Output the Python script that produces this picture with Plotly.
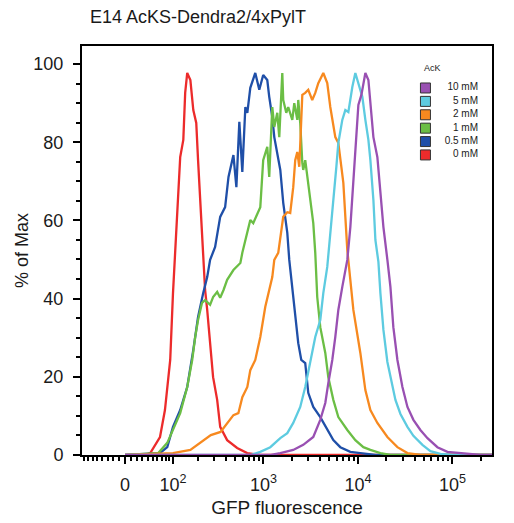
import numpy as np
import plotly.graph_objects as go

# ---- data: GFP fluorescence (a.u.) vs % of max ----
red_x = [0, 35, 45, 66, 78, 92, 100, 113, 123, 134, 141, 149, 162, 175, 189, 198, 219, 237, 250, 269,
         290, 321, 346, 411, 526, 673, 925, 262144]
red_y = [0, 0, 0.5, 4.6, 11.5, 24.3, 41.4, 62.7, 76.2, 80.6, 92.6, 97.7, 95.9, 88.2, 84.9, 75.4, 58.3,
         42.2, 37.1, 28.6, 19.9, 14.1, 7.2, 3.8, 1.8, 0.5, 0, 0]

blue_x = [0, 66, 84, 100, 123, 149, 175, 198, 226, 250, 269, 305, 346, 391, 425, 480, 516, 555, 597, 643,
          675, 726, 820, 904, 995, 1099, 1153, 1242, 1304, 1403, 1510, 1622, 1791, 1879, 2023, 2173, 2339,
          2518, 2773, 2985, 3373, 4000, 4742, 5495, 6516, 8318, 10617, 15311, 262144]
blue_y = [0, 0.5, 2.0, 7.2, 11.5, 17.4, 26.9, 35.3, 41.4, 45.5, 49.9, 53.2, 60.9, 63.4, 71.1, 76.7, 68.5,
          85.2, 72.4, 89.0, 87.5, 93.9, 97.7, 93.4, 97.2, 95.9, 91.6, 86.4, 81.3, 77.2, 72.9, 64.5, 56.8,
          49.9, 43.0, 36.3, 28.6, 24.3, 23.5, 15.9, 12.3, 9.7, 6.4, 3.8, 2.0, 0.8, 0.5, 0, 0]

green_x = [0, 62, 84, 100, 123, 149, 170, 184, 198, 219, 237, 269, 290, 321, 346, 376, 411, 480, 569, 597,
           675, 726, 780, 861, 927, 995, 1099, 1153, 1242, 1304, 1403, 1472, 1585, 1622, 1746, 1832, 2023,
           2123, 2286, 2339, 2455, 2582, 2642, 2773, 2911, 3133, 3373, 3540, 3715, 4000, 4519, 4864, 5495,
           6209, 7727, 9397, 11429, 13552, 17298, 22080, 262144]
green_y = [0, 0.5, 3.1, 6.4, 10.7, 17.4, 24.3, 30.2, 34.5, 38.9, 39.6, 38.4, 40.4, 41.7, 40.2, 42.2, 44.8,
           47.3, 49.1, 51.7, 56.8, 60.1, 59.3, 61.9, 63.4, 75.4, 78.8, 71.1, 89.0, 83.9, 87.5, 81.3, 97.7,
           90.8, 87.5, 89.0, 85.7, 90.0, 85.7, 90.8, 84.9, 74.7, 72.9, 75.4, 71.1, 64.5, 59.3, 51.7, 40.4,
           32.7, 26.1, 19.9, 14.1, 9.7, 6.4, 3.8, 2.0, 1.3, 0.5, 0, 0]

orange_x = [0, 100, 162, 209, 274, 349, 414, 480, 542, 597, 675, 726, 820, 927, 1047, 1125, 1242, 1304,
            1436, 1622, 1791, 1923, 2070, 2173, 2286, 2399, 2582, 2773, 2985, 3289, 3540, 3811, 4305, 4742,
            5105, 5768, 6209, 6683, 7015, 7727, 8954, 10617, 11995, 13552, 16069, 20512, 26182, 33420,
            45810, 262144]
orange_y = [0, 0.5, 1.3, 3.1, 5.1, 5.9, 8.2, 10.2, 10.7, 14.8, 17.4, 21.7, 24.3, 30.2, 37.9, 41.4, 45.5,
            49.9, 51.7, 60.9, 62.1, 61.9, 68.5, 75.4, 77.5, 73.7, 92.1, 92.6, 93.4, 90.8, 92.6, 95.1, 97.7,
            95.1, 89.0, 81.3, 79.8, 73.7, 69.6, 52.4, 37.1, 26.1, 16.6, 11.5, 8.2, 4.6, 2.0, 0.5, 0, 0]

cyan_x = [0, 726, 927, 1183, 1510, 1791, 2070, 2455, 2773, 3133, 3540, 4000, 4305, 4742, 5105, 5495, 5916,
          6209, 6839, 7362, 7925, 8730, 9397, 10115, 11143, 11995, 12912, 13552, 14588, 15311, 16482,
          17298, 18621, 20512, 23174, 24946, 28184, 33420, 38650, 48150, 58480, 74650, 100000, 262144]
cyan_y = [0, 0, 0.8, 2.0, 4.3, 5.6, 8.2, 12.3, 17.4, 24.3, 30.2, 34.5, 41.4, 48.1, 55.8, 65.2, 73.7, 79.8,
          85.7, 88.2, 87.7, 94.1, 97.7, 95.1, 91.6, 85.7, 80.6, 75.4, 65.2, 55.0, 49.4, 41.4, 32.0, 23.8,
          17.4, 14.1, 10.5, 7.2, 4.9, 2.6, 1.0, 0.3, 0, 0]

purple_x = [0, 1200, 1510, 2070, 2642, 3373, 4000, 4519, 4864, 5358, 5768, 6209, 6839, 7362, 7727, 8318,
            8954, 9638, 10115, 10889, 11995, 12912, 14223, 14588, 16069, 17298, 18621, 20512, 22080, 23714,
            26182, 29580, 33420, 38650, 45810, 54450, 69340, 88510, 112980, 144200, 198000, 262144]
purple_y = [0, 0, 0.5, 1.3, 2.6, 4.6, 9.0, 13.3, 18.4, 24.3, 30.2, 37.1, 43.0, 47.3, 49.9, 58.3, 69.6,
            83.1, 89.5, 92.1, 97.7, 95.9, 85.7, 81.3, 76.2, 67.0, 58.3, 49.9, 43.0, 32.7, 24.3, 17.4, 12.3,
            9.0, 6.4, 4.3, 2.0, 0.8, 0.5, 0.3, 0, 0]

labels = ["0 mM", "0.5 mM", "1 mM", "2 mM", "5 mM", "10 mM"]
colors = ["#EC2B2B", "#1F4FA8", "#6BBE45", "#F7891F", "#5DCBE0", "#9950B2"]
xs = [red_x, blue_x, green_x, orange_x, cyan_x, purple_x]
ys = [red_y, blue_y, green_y, orange_y, cyan_y, purple_y]

major_vals = [0, 100, 1000, 10000, 100000]
major_text = ["0", "10<sup>2</sup>", "10<sup>3</sup>", "10<sup>4</sup>", "10<sup>5</sup>"]
minor_vals = ([-v for v in range(10, 90, 10)] + list(range(10, 100, 10)) + list(range(200, 1000, 100))
              + list(range(2000, 10000, 1000)) + list(range(20000, 100000, 10000)) + [200000])
x_min, x_max = -86, 262144

C = 68.8  # biexponential (arcsinh) linearisation width


def biex(v):
    return np.arcsinh(np.asarray(v, dtype=float) / C)


FONT = "Liberation Sans, Arial, sans-serif"
TXT = "#1a1a1a"

# the page body has an 8px default margin, so the figure is sized to fit inside it
W, H, OFF = 506, 515, 8

fig = go.Figure()
for lab, col, x, y in zip(labels, colors, xs, ys):
    fig.add_trace(go.Scatter(x=biex(x), y=y, mode="lines", name=lab,
                             line=dict(color=col, width=2.3), showlegend=False))

# legend drawn on a small helper subplot
leg_order = list(range(len(labels)))
fig.add_trace(go.Scatter(x=[0.15] * len(labels), y=leg_order, mode="markers",
                         marker=dict(symbol="square", size=10, color=colors,
                                     line=dict(color="#333333", width=1)),
                         xaxis="x2", yaxis="y2", showlegend=False, hoverinfo="skip"))
fig.add_trace(go.Scatter(x=[0.9] * len(labels), y=leg_order, mode="text", text=labels,
                         textposition="middle left", textfont=dict(size=10, color=TXT, family=FONT),
                         xaxis="x2", yaxis="y2", showlegend=False, hoverinfo="skip"))

fig.update_layout(
    width=W, height=H,
    margin=dict(l=82 - OFF, r=22, t=46 - OFF, b=68, autoexpand=False),
    paper_bgcolor="white", plot_bgcolor="white",
    font=dict(family=FONT, color=TXT, size=18),
    title=dict(text="E14 AcKS-Dendra2/4xPylT", x=(90 - OFF) / W, xanchor="left",
               y=1 - (17 - OFF) / H, yanchor="middle", yref="container",
               font=dict(size=18, color=TXT)),
    xaxis=dict(range=[float(biex(x_min)), float(biex(x_max))], tickmode="array",
               tickvals=biex(major_vals), ticktext=major_text, ticks="outside", ticklen=7,
               tickwidth=2, tickcolor="black", showline=True, linecolor="black", linewidth=2,
               mirror=True, showgrid=False, zeroline=False, ticklabelstandoff=5, automargin=False,
               minor=dict(tickmode="array", tickvals=biex(minor_vals), ticks="outside",
                          ticklen=4, tickwidth=1.5, tickcolor="black", showgrid=False),
               title=dict(text="GFP fluorescence", font=dict(size=19), standoff=7)),
    yaxis=dict(range=[0, 104.6], tickmode="linear", tick0=0, dtick=20, ticks="outside", ticklen=7,
               tickwidth=2, tickcolor="black", showline=True, linecolor="black", linewidth=2,
               mirror=True, showgrid=False, zeroline=False, ticklabelstandoff=6, automargin=False,
               minor=dict(dtick=5, ticks="outside", ticklen=4, tickwidth=1.5, tickcolor="black",
                          showgrid=False),
               title=dict(text="% of Max", font=dict(size=18), standoff=0)),
    xaxis2=dict(domain=[0.812, 0.983], anchor="y2", range=[0, 1], visible=False, fixedrange=True),
    yaxis2=dict(domain=[0.714, 0.917], anchor="x2", range=[-0.6, 5.6], visible=False, fixedrange=True),
    annotations=[dict(text="AcK", x=(432 - 82) / 410, y=(455 - 68) / 409, xref="paper", yref="paper",
                      showarrow=False, font=dict(size=9, color=TXT), xanchor="center", yanchor="middle")],
)

fig.write_html("out.html")
